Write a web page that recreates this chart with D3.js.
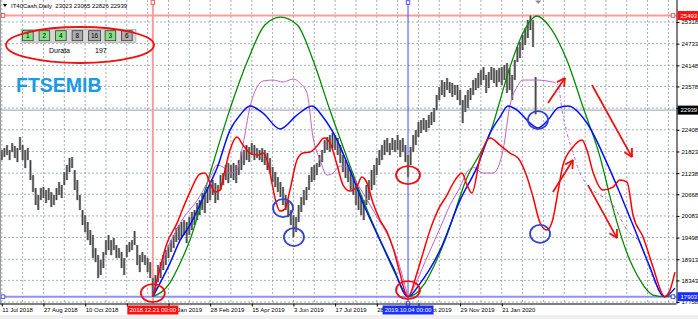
<!DOCTYPE html>
<html>
<head>
<meta charset="utf-8">
<script src="https://cdn.jsdelivr.net/npm/d3@7"></script>
<style>
  body { margin: 0; background: #fff; }
  svg text { font-family: "Liberation Sans", Arial, sans-serif; }
</style>
</head>
<body>
<svg id="chart" width="698" height="319"></svg>
<script>
// ---- data ----
const header = 'IT40Cash,Daily  23023 23065 22826 22939';
const priceTicks = [25318, 24733, 24148, 23578, 22993, 22408, 21823, 21238, 20668, 20083, 19498, 18913, 18343, 17758];
const dateLabels = ['11 Jul 2018', '27 Aug 2018', '10 Oct 2018', '22 Nov 2018', '10 Jan 2019', '28 Feb 2019',
  '15 Apr 2019', '3 Jun 2019', '17 Jul 2019', '28 Aug 2019', '10 Oct 2019', '29 Nov 2019', '21 Jan 2020'];
const buttons = ['1', '2', '4', '8', '16', '3', '6'];
const buttonsOn = [true, true, true, false, false, true, false];
const duration = 197;

const levelHigh = 25493;
const levelLow = 17903;
const lastPrice = 22939;
const markerRed = { day: 116, label: '2018.12.21 00:00' };
const markerBlue = { day: 312, label: '2019.10.04 00:00' };

// one entry = two daily sessions
const candleHigh = [21861, 21915, 21996, 21861, 22050, 21969, 21915, 22212, 21996, 21861, 21915, 21591, 21186, 20835, 20646, 20835,
  20862, 20781, 20835, 20727, 20646, 20835, 20997, 20916, 21267, 21456, 21645, 21672, 21321, 21051, 20646, 20241,
  20106, 19917, 19701, 19566, 19215, 19026, 18891, 19107, 19431, 19566, 19431, 19485, 19296, 19215, 19107, 18945,
  19296, 19377, 19431, 19674, 19296, 19026, 19107, 19026, 18945, 18837, 18405, 18486, 18756, 18837, 19026, 19161,
  19296, 19431, 19566, 19755, 19836, 19917, 19971, 19917, 20052, 20187, 20241, 20430, 20511, 20700, 20646, 20862,
  20916, 21051, 20970, 20916, 21186, 21240, 21456, 21510, 21456, 21510, 21456, 21591, 21807, 21861, 21996, 21942,
  22050, 21996, 21915, 21861, 21915, 21861, 21780, 21645, 21402, 21267, 21132, 20997, 20862, 20646, 20511, 20241,
  20106, 20052, 20376, 20592, 20781, 20862, 21186, 21402, 21456, 21510, 21726, 21861, 22131, 22212, 22266, 22320,
  22266, 22185, 21996, 21726, 21591, 21456, 21321, 21105, 20970, 20781, 20646, 20511, 20916, 21051, 21321, 21456,
  21645, 21861, 21996, 22131, 22185, 22050, 22185, 22131, 22266, 22131, 22185, 21996, 21726, 21942, 22266, 22401,
  22617, 22671, 22725, 22671, 22806, 22887, 22995, 23346, 23562, 23751, 23697, 23805, 23697, 23670, 23616, 23616,
  23481, 23211, 23346, 23481, 23535, 23751, 23805, 23940, 24021, 24102, 23886, 23967, 24102, 24075, 24021, 24075,
  24102, 24156, 24210, 24075, 23886, 24291, 24642, 24777, 24966, 25155, 25371, 25493, 25371, 23832];
const candleLow = [21591, 21672, 21726, 21591, 21807, 21645, 21537, 21861, 21591, 21375, 21591, 21051, 20727, 20376, 20241, 20511,
  20565, 20430, 20511, 20322, 20376, 20511, 20646, 20565, 20916, 21051, 21267, 21375, 20781, 20511, 20241, 19836,
  19647, 19431, 19296, 18945, 18837, 18405, 18486, 18675, 19026, 19161, 19026, 19161, 18945, 18945, 18675, 18486,
  18972, 19107, 19161, 19296, 18756, 18567, 18837, 18756, 18567, 18405, 17903, 18081, 18297, 18405, 18621, 18756,
  18945, 19107, 19215, 19377, 19431, 19485, 19566, 19350, 19566, 19701, 19836, 19971, 20106, 20241, 20160, 20430,
  20511, 20646, 20430, 20511, 20781, 20916, 21051, 20970, 21105, 21051, 20970, 21186, 21321, 21456, 21591, 21537,
  21726, 21591, 21645, 21591, 21537, 21456, 21321, 21240, 20997, 20862, 20727, 20592, 20376, 20241, 20052, 19836,
  19512, 19647, 19917, 20187, 20376, 20511, 20781, 20997, 21051, 21186, 21402, 21537, 21780, 21861, 21807, 21915,
  21861, 21726, 21510, 21267, 21105, 20997, 20781, 20646, 20376, 20241, 20106, 19971, 20376, 20511, 20781, 20916,
  21186, 21456, 21591, 21726, 21807, 21726, 21861, 21807, 21861, 21672, 21807, 21537, 21132, 21456, 21807, 21996,
  22212, 22320, 22401, 22347, 22455, 22536, 22617, 22941, 23211, 23346, 23292, 23481, 23400, 23292, 23346, 23211,
  23076, 22590, 22887, 22995, 23211, 23346, 23481, 23535, 23616, 23751, 23400, 23535, 23751, 23670, 23562, 23697,
  23616, 23751, 23400, 23481, 23211, 23751, 24237, 24345, 24561, 24696, 24885, 25101, 24642, 22826];

// cycle curves: [day, price]
const greenCycle = [[116, 17903], [129, 18270], [137, 18810], [144.5, 19431], [160, 21240], [175, 22940], [189, 24290],
  [202, 25236], [214, 25450], [227, 25236], [239, 24290], [252, 22940], [265, 21670], [277.5, 20510], [290.5, 19430],
  [303.5, 18430], [312, 17903], [325, 18270], [333, 18810], [340.5, 19430], [356.5, 21050], [375, 22320], [390.3, 24100],
  [400.3, 25020], [411, 25480], [421, 25182], [434, 24290], [446.4, 23022], [459.5, 21672], [469.4, 20295],
  [480.2, 19080], [490.2, 18351], [500.2, 17946], [509, 17903], [517, 17950]];
const blueCycle = [[116, 17903], [129.2, 18810], [137, 19430], [144.5, 19836], [154.5, 20565], [165.3, 21375], [175.3, 22400],
  [183, 22806], [190.6, 23050], [200.6, 22860], [213.7, 22430], [226.7, 22806], [238.3, 23050], [246.7, 22752],
  [257.5, 22131], [267.4, 21321], [277.4, 20430], [290.5, 19430], [300.5, 18700], [312, 17903], [321, 18250],
  [336.6, 19160], [352, 20510], [365, 21400], [375, 22320], [382.6, 22750], [388.8, 23050], [395.7, 22940],
  [405.7, 22590], [411.8, 22455], [419.5, 22670], [427.2, 23000], [434.9, 23050], [449.4, 22590], [464.8, 21510],
  [474.7, 20700], [484.8, 19836], [497.8, 18700], [507, 17946], [509, 17903], [517, 18135]];
const purpleCycle = [[116, 17903], [119.2, 18351], [126.9, 19161], [137, 19890], [152.2, 20619], [160, 21130], [165.3, 21456],
  [170, 21400], [175.3, 21240], [180.6, 21321], [185.2, 21996], [190.6, 23020], [196, 23560], [200.6, 23724],
  [208.3, 23751], [216, 23697], [223.7, 23778], [229, 23670], [234.4, 23400], [239, 22212], [244.4, 21591],
  [249.8, 21186], [254.4, 21240], [259.8, 21429], [265.1, 21400], [269.7, 21132], [277.4, 20700], [288.2, 20052],
  [298.2, 19431], [305.8, 18700], [311.2, 18000], [312, 17903], [317.4, 18216], [325, 18837], [336.6, 19755],
  [344.3, 20380], [352, 20862], [357.3, 21267], [362, 21400], [369.6, 21240], [377.3, 21240], [385, 21861],
  [390.3, 23076], [395.7, 23562], [400.3, 23751], [411, 23751], [423.3, 23697]];
const purpleProjection = [[423.3, 23697], [427.2, 23616], [430.3, 22941], [434.1, 22320], [438.7, 21780], [444.1, 21240],
  [451.8, 20835], [459.5, 20646], [469.4, 20376], [480.2, 19700], [490.2, 19350], [501.7, 18270], [507, 17903]];
const redCycle = [[116, 17903], [119.2, 18351], [126.9, 19350], [134.6, 19890], [139.2, 20295], [144.5, 20727], [152.2, 21213],
  [156.1, 21240], [160, 20970], [163.8, 20727], [167.6, 20781], [171.4, 21321], [175.3, 21861], [180.6, 22212],
  [185.2, 21996], [190.6, 21780], [196.8, 21726], [200.6, 21780], [204.4, 21510], [207.5, 20970], [210.6, 20457],
  [213.7, 20214], [217.5, 20268], [221.3, 20781], [226.7, 21591], [231.3, 21780], [236.7, 21807], [242.1, 21969],
  [247.5, 22185], [252.1, 22050], [257.5, 21456], [262.1, 20916], [267.4, 20754], [272.8, 20889], [276.6, 21132],
  [280.5, 20970], [285.1, 20430], [290.5, 19971], [295.9, 19647], [300.5, 19215], [305.8, 18540], [309.7, 18027],
  [312, 17903], [318.9, 18540], [323.5, 19080], [328.9, 19700], [335, 20241], [341.9, 20646], [348.1, 21051],
  [353.5, 21240], [357.3, 20916], [361.1, 20700], [367.3, 21645], [375, 22185], [382.6, 21996], [390.3, 21780],
  [396.5, 21645], [403.4, 21132], [408, 20592], [413.4, 19900], [418.7, 19700], [423.3, 20000], [427, 20700],
  [431, 21450], [438.7, 21942], [445.6, 22131], [449.4, 21861], [454.3, 21240], [461.7, 20781], [469.4, 20862],
  [474.7, 21051], [480.2, 20997], [484.8, 20106], [492.5, 19512], [500.2, 18700], [507.8, 17946], [509, 17903],
  [513.2, 18081], [517, 18567]];

// hand-drawn marks: [day, price]
const redCircles = [[116, 18000], [312, 21186], [312, 18081]];
const blueCircles = [[216, 20295], [224.4, 19512], [411.8, 22671], [413.4, 19600]];
const arrows = [
  [[419.5, 23130], [432.5, 23805]],
  [[453.3, 23616], [484, 21672]],
  [[423.3, 20727], [438.7, 21591]],
  [[450.2, 20916], [472.5, 19485]],
];

// ---- layout ----
const W = 698, H = 319;
const plotR = 676.5, plotB = 303.5;
const svg = d3.select('#chart');

const x = d3.scaleLinear().domain([0, 512]).range([1.8, 1.8 + 512 * 1.302]);
const y = d3.scaleLinear().domain([levelLow, levelHigh]).range([296.7, 15.5]);

svg.append('rect').attr('x', 0).attr('y', 315).attr('width', W).attr('height', 4).attr('fill', '#f0f0f0');

svg.append('clipPath').attr('id', 'plot')
  .append('rect').attr('x', 0).attr('y', 0).attr('width', plotR).attr('height', plotB);

// grid
const grid = svg.append('g').attr('stroke', '#8c9aab').attr('stroke-width', 0.8).attr('stroke-dasharray', '2,2');
grid.selectAll('line.v').data(d3.range(0, 513, 16)).join('line')
  .attr('x1', d => x(d)).attr('x2', d => x(d)).attr('y1', 0).attr('y2', plotB);
grid.selectAll('line.h').data(priceTicks).join('line')
  .attr('x1', 0).attr('x2', plotR).attr('y1', d => y(d)).attr('y2', d => y(d));

// level lines
svg.append('line').attr('x1', 0).attr('x2', plotR).attr('y1', y(lastPrice)).attr('y2', y(lastPrice))
  .attr('stroke', '#97a3b0').attr('stroke-width', 1);
svg.append('line').attr('x1', 0).attr('x2', plotR).attr('y1', y(levelHigh)).attr('y2', y(levelHigh))
  .attr('stroke', '#ff9a9a').attr('stroke-width', 2);
svg.append('line').attr('x1', 0).attr('x2', plotR).attr('y1', y(levelLow)).attr('y2', y(levelLow))
  .attr('stroke', '#8f8fff').attr('stroke-width', 2);
svg.append('line').attr('x1', x(markerRed.day)).attr('x2', x(markerRed.day)).attr('y1', 3).attr('y2', plotB)
  .attr('stroke', '#ff9a9a').attr('stroke-width', 2);
svg.append('line').attr('x1', x(markerBlue.day)).attr('x2', x(markerBlue.day)).attr('y1', 3).attr('y2', plotB)
  .attr('stroke', '#3a4cff').attr('stroke-width', 1);

// candles: grey body with a darker wick through it
const plot = svg.append('g').attr('clip-path', 'url(#plot)');
const candles = plot.append('g').selectAll('g').data(candleHigh).join('g');
candles.append('rect')
  .attr('x', (d, i) => x(2 * i) - 1.2)
  .attr('width', 2.4)
  .attr('y', d => y(d))
  .attr('height', (d, i) => Math.max(1, y(candleLow[i]) - y(d)))
  .attr('fill', '#8c8c8c');
candles.append('line')
  .attr('x1', (d, i) => x(2 * i)).attr('x2', (d, i) => x(2 * i))
  .attr('y1', d => y(d)).attr('y2', (d, i) => y(candleLow[i]))
  .attr('stroke', '#3a3a3a').attr('stroke-width', 0.9);

// cycle curves
const line = d3.line().x(d => x(d[0])).y(d => y(d[1])).curve(d3.curveMonotoneX);
const curve = (data, color, width, dash) => plot.append('path')
  .datum(data).attr('d', line).attr('fill', 'none')
  .attr('stroke', color).attr('stroke-width', width)
  .attr('stroke-dasharray', dash || null);
curve(greenCycle, '#008a00', 1.3);
curve(purpleCycle, '#c062c8', 1);
curve(purpleProjection, '#c062c8', 1, '3,2,1,2');
curve(blueCycle, '#0010ff', 1.5);
curve(redCycle, '#ff0000', 1.5);

// hand-drawn circles and arrows
const marks = svg.append('g').attr('fill', 'none').attr('stroke-width', 1.8);
marks.selectAll('ellipse.r').data(redCircles).join('ellipse')
  .attr('cx', d => x(d[0])).attr('cy', d => y(d[1])).attr('rx', 12).attr('ry', 9).attr('stroke', '#ee1111');
marks.selectAll('ellipse.b').data(blueCircles).join('ellipse')
  .attr('cx', d => x(d[0])).attr('cy', d => y(d[1])).attr('rx', 10).attr('ry', 9).attr('stroke', '#3344cc');
marks.selectAll('g.arrow').data(arrows).join('g').each(function (d) {
  const x1 = x(d[0][0]), y1 = y(d[0][1]), x2 = x(d[1][0]), y2 = y(d[1][1]);
  const a = Math.atan2(y1 - y2, x1 - x2);
  const head = [a - 0.5, a + 0.5].map(t => [x2 + 9 * Math.cos(t), y2 + 9 * Math.sin(t)]);
  const g = d3.select(this).attr('stroke', '#ee1111');
  g.append('line').attr('x1', x1).attr('y1', y1).attr('x2', x2).attr('y2', y2);
  head.forEach(h => g.append('line').attr('x1', h[0]).attr('y1', h[1]).attr('x2', x2).attr('y2', y2));
});

// little anchor squares of the drawn lines
const sq = (cx, cy, color) => svg.append('rect').attr('x', cx - 1.8).attr('y', cy - 1.8)
  .attr('width', 3.6).attr('height', 3.6).attr('fill', '#fff').attr('stroke', color).attr('stroke-width', 0.8);
sq(3, y(levelHigh), '#ff3030'); sq(673, y(levelHigh), '#ff3030');
sq(3, y(levelLow), '#3030ff'); sq(673, y(levelLow), '#3030ff');
sq(x(markerRed.day), 2.5, '#ff3030');
sq(x(markerBlue.day), 2.5, '#3030ff'); sq(x(markerBlue.day), plotB, '#3030ff');

// shift marker
svg.append('path').attr('d', `M${x(412) - 3},0.5 L${x(412) + 3},0.5 L${x(412)},4 Z`).attr('fill', '#8a8a8a');

// frame
svg.append('line').attr('x1', 0.5).attr('x2', 0.5).attr('y1', 0).attr('y2', plotB).attr('stroke', '#9a9a9a');

// axes (labels hidden under the marker boxes are left out, as on the chart)
const hiddenPrice = 22993;
const hiddenDate = 3;
const yAxis = svg.append('g').attr('transform', `translate(${plotR},0)`)
  .call(d3.axisRight(y).tickValues(priceTicks).tickSize(3).tickPadding(2)
    .tickFormat(d => d === hiddenPrice ? '' : d3.format('d')(d)));
yAxis.select('.domain').attr('d', `M0.5,0V${plotB}`).attr('stroke', '#000');
yAxis.selectAll('text').attr('font-size', 6).attr('fill', '#000').attr('font-family', null);

const xAxis = svg.append('g').attr('transform', `translate(0,${plotB})`)
  .call(d3.axisBottom(x).tickValues(d3.range(0, 385, 32)).tickSize(3)
    .tickFormat((d, i) => i === hiddenDate ? '' : dateLabels[i]));
xAxis.select('.domain').attr('d', `M0,0.5H${plotR}`).attr('stroke', '#000');
xAxis.selectAll('text').attr('font-size', 6).attr('fill', '#000').attr('font-family', null)
  .attr('text-anchor', 'start').attr('dx', 0).attr('y', 4);

// price label boxes
const priceBox = (p, bg) => {
  svg.append('rect').attr('x', plotR + 1).attr('y', y(p) - 4.5).attr('width', W - plotR - 1).attr('height', 9).attr('fill', bg);
  svg.append('text').attr('x', plotR + 4).attr('y', y(p) + 2.2).attr('font-size', 6).attr('fill', '#fff').text(p);
};
priceBox(levelHigh, '#ff1010');
priceBox(lastPrice, '#000');
priceBox(levelLow, '#1830ff');

// time label boxes
const timeBox = (m, bg) => {
  svg.append('rect').attr('x', x(m.day) - 25.5).attr('y', 305.5).attr('width', 51).attr('height', 9).attr('fill', bg);
  svg.append('text').attr('x', x(m.day)).attr('y', 312.3).attr('text-anchor', 'middle')
    .attr('font-size', 6).attr('fill', '#fff').text(m.label);
};
timeBox(markerRed, '#ff1010');
timeBox(markerBlue, '#1830ff');

// header
svg.append('path').attr('d', 'M3,4 L7,4 L5,7 Z').attr('fill', '#000');
svg.append('text').attr('x', 11).attr('y', 8).attr('font-size', 6).attr('fill', '#000')
  .attr('xml:space', 'preserve').style('white-space', 'pre').text(header);

// button panel
const panel = svg.append('g');
panel.append('rect').attr('x', 21).attr('y', 29.3).attr('width', 115).attr('height', 13.4)
  .attr('fill', '#d6d6d6').attr('stroke', '#a8a8a8').attr('stroke-width', 0.6);
const btn = panel.selectAll('g').data(buttons).join('g')
  .attr('transform', (d, i) => `translate(${22.6 + i * 16.5},30.7)`);
btn.append('rect').attr('width', d => d.length > 1 ? 12 : 10.6).attr('height', 10)
  .attr('fill', (d, i) => buttonsOn[i] ? '#86e086' : '#acacac')
  .attr('stroke', '#3a3a3a').attr('stroke-width', 0.8);
btn.append('text').attr('x', d => d.length > 1 ? 6 : 5.3).attr('y', 7.4).attr('text-anchor', 'middle')
  .attr('font-size', 6.5).attr('fill', '#000').text(d => d);
panel.append('text').attr('x', 49).attr('y', 53).attr('font-size', 7).attr('fill', '#000').text('Durata');
panel.append('text').attr('x', 95).attr('y', 53).attr('font-size', 7).attr('fill', '#000').text(duration);
svg.append('ellipse').attr('cx', 80).attr('cy', 45).attr('rx', 74).attr('ry', 18)
  .attr('fill', 'none').attr('stroke', '#ee1111').attr('stroke-width', 1.8);

svg.append('text').attr('x', 16).attr('y', 92).attr('font-size', 19.5).attr('font-weight', 'bold')
  .attr('fill', '#1a9ae6').text('FTSEMIB');
</script>
</body>
</html>
